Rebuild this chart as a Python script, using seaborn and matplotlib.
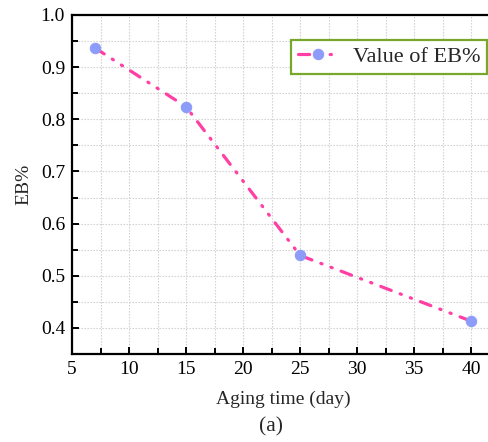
import matplotlib
matplotlib.use("Agg")
import matplotlib.pyplot as plt
from matplotlib.ticker import MultipleLocator
import seaborn as sns
import pandas as pd

aging_days = [7, 15, 25, 40]
eb_values = [0.937, 0.824, 0.539, 0.413]
series_label = "Value of EB%"

sns.set_theme(style="ticks")
plt.rcParams['font.family'] = ['Liberation Serif', 'DejaVu Serif']
plt.rcParams['mathtext.fontset'] = 'stix'

df = pd.DataFrame({"day": aging_days, "eb": eb_values})

W, H = 488, 442
fig = plt.figure(figsize=(W / 100, H / 100), dpi=100)
left, right, top, bottom = 72, 494, 15, 354
ax = fig.add_axes([left / W, 1 - bottom / H, (right - left) / W, (bottom - top) / H])

sns.lineplot(data=df, x="day", y="eb", ax=ax, color="#ff3fa4", linewidth=2.3,
             marker="o", markersize=7.5, markerfacecolor="#8c9cf8",
             markeredgecolor="#8c9cf8", label=series_label)
for ln in ax.get_lines():
    ln.set_dashes([3.5, 3.0, 0.4, 3.0, 0.4, 3.0])
    ln.set_dash_capstyle("round")

ax.set_xlim(5, 42)
ax.set_ylim(0.35, 1.0)
ax.xaxis.set_minor_locator(MultipleLocator(2.5))
ax.yaxis.set_minor_locator(MultipleLocator(0.05))
ax.set_xticks(range(5, 41, 5))
ax.set_xticklabels([str(v) for v in range(5, 41, 5)])
ax.set_yticks([0.4, 0.5, 0.6, 0.7, 0.8, 0.9, 1.0])
ax.set_yticklabels(["0.4", "0.5", "0.6", "0.7", "0.8", "0.9", "1.0"])

ax.grid(True, which="both", color="#cccccc", linestyle=(0, (1.2, 1.5)), linewidth=0.8)
ax.set_axisbelow(True)
ax.tick_params(which="both", direction="in", top=False, right=False, width=1.4,
               labelsize=14, colors="black", pad=5)
ax.tick_params(which="major", length=5)
ax.tick_params(which="minor", length=4)
for s in ax.spines.values():
    s.set_linewidth(1.6)
    s.set_color("black")

ax.set_xlabel("Aging time (day)", fontsize=14, labelpad=9)
ax.set_ylabel("EB%", fontsize=14, labelpad=6)

leg = ax.legend(loc="upper left", bbox_to_anchor=((291 - left) / (right - left), 1 - (40 - top) / (bottom - top)),
                fontsize=16, frameon=True, fancybox=False, handlelength=1.8,
                borderpad=0.3, handletextpad=0.7, borderaxespad=0)
leg.get_frame().set_edgecolor("#77a82c")
leg.get_frame().set_linewidth(1.6)
leg.get_frame().set_alpha(1)

fig.text((left + 470) / 2 / W, 1 - 427 / H, "(a)", ha="center", va="center", fontsize=15.5)

fig.savefig("out.png", dpi=100)
